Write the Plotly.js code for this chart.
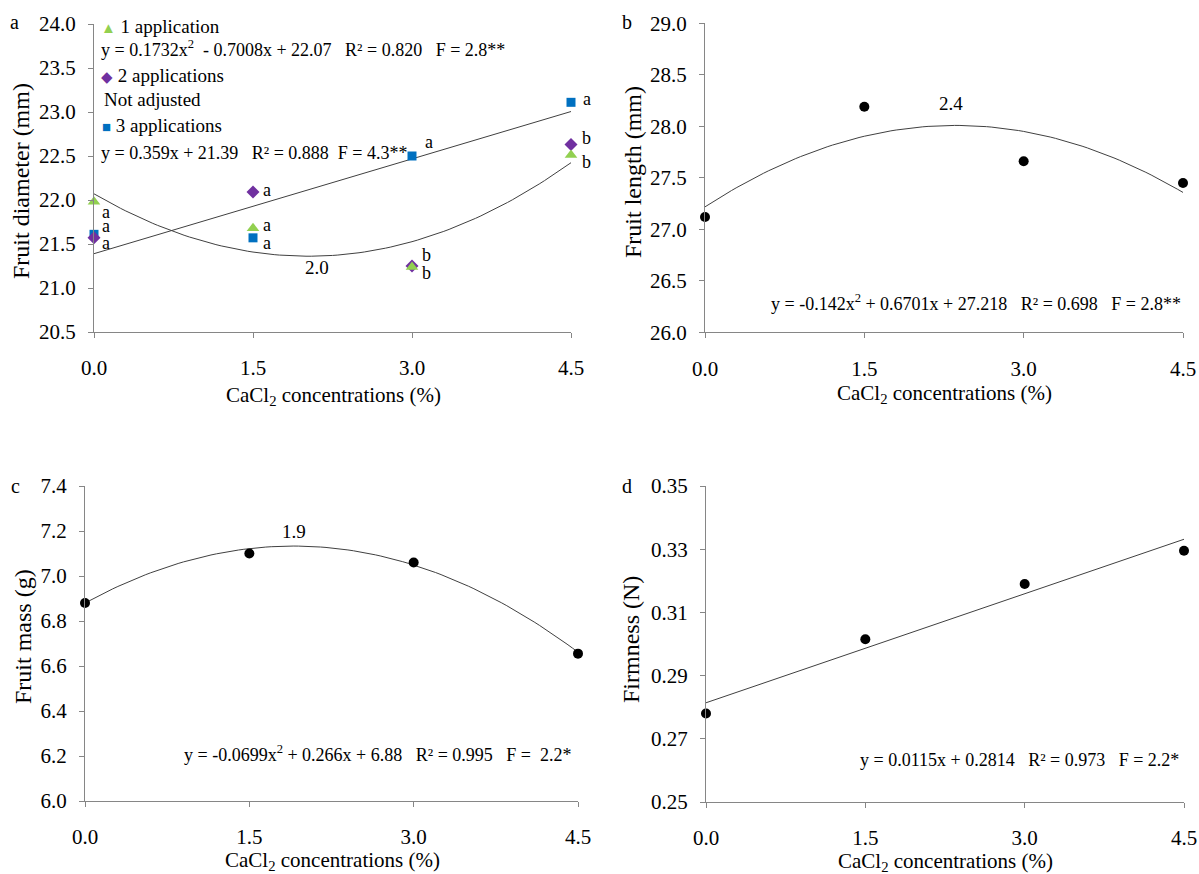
<!DOCTYPE html>
<html>
<head>
<meta charset="utf-8">
<script src="https://cdn.plot.ly/plotly-3.0.1.min.js"></script>
<style>html,body{margin:0;padding:0;background:#fff;}#chart{width:1199px;height:874px;}</style>
</head>
<body>
<div id="chart"></div>
<script>
// ---------- data ----------
const concentrations = [0, 1.5, 3.0, 4.5];
const concLabels = ['0.0', '1.5', '3.0', '4.5'];

// Panel a: fruit diameter (mm)
const diam1App = [21.98, 21.68, 21.24, 22.51];
const diam2App = [21.57, 22.09, 21.25, 22.63];
const diam3App = [21.61, 21.57, 22.50, 23.11];
const letters1App = ['a', 'a', 'b', 'b'];
const letters2App = ['a', 'a', 'b', 'b'];
const letters3App = ['a', 'a', 'a', 'a'];
const fitDiam1 = [22.07, -0.7008, 0.1732];   // c0, c1, c2
const fitDiam3 = [21.39, 0.359];

// Panel b: fruit length (mm)
const fruitLength = [27.12, 28.19, 27.66, 27.45];
const fitLength = [27.218, 0.6701, -0.142];

// Panel c: fruit mass (g)
const fruitMass = [6.88, 7.10, 7.06, 6.655];
const fitMass = [6.88, 0.266, -0.0699];

// Panel d: firmness (N)
const firmness = [0.278, 0.3015, 0.319, 0.3295];
const fitFirm = [0.2814, 0.0115];

// ---------- helpers ----------
const W = 1199, H = 874;
const fx = p => p / W;
const fy = p => 1 - p / H;
const FONT = '"Liberation Serif", serif';
const NB = s => s.replace(/ /g, '\u00a0');

function poly(c, x) { let s = 0; for (let i = c.length - 1; i >= 0; i--) s = s * x + c[i]; return s; }
function curve(c) {
  const xs = [], ys = [];
  for (let i = 0; i <= 90; i++) { const x = 4.5 * i / 90; xs.push(x); ys.push(poly(c, x)); }
  return { xs, ys };
}

const lineStyle = { color: '#404040', width: 1 };
const traces = [];
function addFit(c, xa, ya) {
  const cv = curve(c);
  traces.push({ x: cv.xs, y: cv.ys, xaxis: xa, yaxis: ya, mode: 'lines', line: lineStyle,
    hoverinfo: 'skip', showlegend: false, cliponaxis: false });
}
function addPts(y, xa, ya, symbol, color, size) {
  traces.push({ x: concentrations, y: y, xaxis: xa, yaxis: ya, mode: 'markers',
    marker: { symbol: symbol, color: color, size: size }, showlegend: false, cliponaxis: false });
}

const GREEN = '#92D050', PURPLE = '#7030A0', BLUE = '#0070C0';

addFit(fitDiam1, 'x', 'y');
addFit(fitDiam3, 'x', 'y');
addPts(diam3App, 'x', 'y', 'square', BLUE, 9);
addPts(diam2App, 'x', 'y', 'diamond', PURPLE, 10);
addPts(diam1App, 'x', 'y', 'triangle-up', GREEN, 11);

addFit(fitLength, 'x2', 'y2');
addPts(fruitLength, 'x2', 'y2', 'circle', '#000', 10);
addFit(fitMass, 'x3', 'y3');
addPts(fruitMass, 'x3', 'y3', 'circle', '#000', 10);
addFit(fitFirm, 'x4', 'y4');
addPts(firmness, 'x4', 'y4', 'circle', '#000', 10);

// ---------- axes ----------
function xAxis(d0, d1, anchor) {
  return { domain: [fx(d0), fx(d1)], anchor: anchor, range: [0, 4.5], showline: true,
    linecolor: '#868686', linewidth: 1, ticks: 'outside', ticklen: 5, tickcolor: '#868686',
    tickvals: concentrations, ticktext: concLabels, showgrid: false, zeroline: false,
    ticklabeloverflow: 'allow',
    ticklabelstandoff: 12, tickfont: { family: FONT, size: 21, color: '#000' } };
}
function yAxis(t0, t1, anchor, range, dtick, fmt) {
  return { domain: [fy(t1), fy(t0)], anchor: anchor, range: range, showline: true,
    linecolor: '#868686', linewidth: 1, ticks: 'outside', ticklen: 5, tickcolor: '#868686',
    dtick: dtick, tick0: range[0], tickformat: fmt, showgrid: false, zeroline: false,
    ticklabeloverflow: 'allow',
    ticklabelstandoff: 8, tickfont: { family: FONT, size: 21, color: '#000' } };
}

const ann = [];
function txt(text, x, y, opts) {
  ann.push(Object.assign({ text: text, x: fx(x), y: fy(y), xref: 'paper', yref: 'paper',
    showarrow: false, xanchor: 'center', yanchor: 'middle',
    font: { family: FONT, size: 18, color: '#000' } }, opts || {}));
}

// panel letters
const f20 = { family: FONT, size: 20, color: '#000' };
txt('a', 14, 22, { font: f20 });
txt('b', 627, 22, { font: f20 });
txt('c', 15, 486, { font: f20 });
txt('d', 627, 486, { font: f20 });

// axis titles
const xTitle = 'CaCl<sub>2</sub> concentrations (%)';
const tf20 = { family: FONT, size: 21, color: '#000' };
txt(xTitle, 333, 396, { font: tf20 });
txt(xTitle, 944, 394, { font: tf20 });
txt(xTitle, 332, 861, { font: tf20 });
txt(xTitle, 945, 862, { font: tf20 });
const tf24 = { family: FONT, size: 24, color: '#000' };
txt('Fruit diameter (mm)', 21, 181, { textangle: -90, font: tf24 });
txt('Fruit length (mm)', 633, 172, { textangle: -90, font: tf24 });
txt('Fruit mass (g)', 23, 637, { textangle: -90, font: tf24 });
txt('Firmness (N)', 631, 640, { textangle: -90, font: tf24 });

// panel a legend / equations
const mk = (g, c) => '<span style="color:' + c + ';font-size:15px">' + g + '</span>';
const f19 = { family: FONT, size: 19, color: '#000' };
txt(mk('\u25B2', GREEN) + ' 1 application', 99, 26, { xanchor: 'left', font: f19 });
txt(NB('y = 0.1732x<sup>2</sup>  - 0.7008x + 22.07   R² = 0.820   F = 2.8**'), 99, 49, { xanchor: 'left' });
txt(mk('\u25C6', PURPLE) + ' 2 applications', 99, 75, { xanchor: 'left', font: f19 });
txt('Not adjusted', 102, 100, { xanchor: 'left', font: f19 });
txt(mk('\u25A0', BLUE) + ' 3 applications', 100, 126, { xanchor: 'left', font: f19 });
txt(NB('y = 0.359x + 21.39   R² = 0.888  F = 4.3**'), 99, 153, { xanchor: 'left' });

// panel a significance letters (anchored on the data points)
function letter(t, xv, yv, xs, ys) {
  ann.push({ text: t, x: xv, y: yv, xref: 'x', yref: 'y', showarrow: false,
    xshift: xs, yshift: ys, font: { family: FONT, size: 18, color: '#000' } });
}
const shifts1 = [[12, -10], [14, 3], [14, -6], [15, -7]];
const shifts2 = [[12, -5], [14, 2], [14, 11], [15, 7]];
const shifts3 = [[12, 8], [14, -5], [17, 14], [16, 3]];
concentrations.forEach((c, i) => {
  letter(letters1App[i], c, diam1App[i], shifts1[i][0], shifts1[i][1]);
  letter(letters2App[i], c, diam2App[i], shifts2[i][0], shifts2[i][1]);
  letter(letters3App[i], c, diam3App[i], shifts3[i][0], shifts3[i][1]);
});

// vertex labels
ann.push({ text: '2.0', x: 2.1, y: 21.23, xref: 'x', yref: 'y', showarrow: false, font: f19 });
ann.push({ text: '2.4', x: 2.32, y: 28.22, xref: 'x2', yref: 'y2', showarrow: false, font: f19 });
ann.push({ text: '1.9', x: 1.91, y: 7.20, xref: 'x3', yref: 'y3', showarrow: false, font: f19 });

// equations b, c, d
txt(NB('y = -0.142x<sup>2</sup> + 0.6701x + 27.218   R² = 0.698   F = 2.8**'), 1183, 302, { xanchor: 'right' });
txt(NB('y = -0.0699x<sup>2</sup> + 0.266x + 6.88   R² = 0.995   F =  2.2*'), 573, 753, { xanchor: 'right' });
txt(NB('y = 0.0115x + 0.2814   R² = 0.973   F = 2.2*'), 1181, 760, { xanchor: 'right' });

const layout = {
  width: W, height: H, margin: { l: 0, r: 0, t: 0, b: 0 },
  paper_bgcolor: '#fff', plot_bgcolor: 'rgba(0,0,0,0)', showlegend: false,
  font: { family: FONT, color: '#000' },
  xaxis: xAxis(94, 571, 'y'),
  yaxis: yAxis(24, 332, 'x', [20.5, 24], 0.5, '.1f'),
  xaxis2: xAxis(705, 1183, 'y2'),
  yaxis2: yAxis(23.3, 332.3, 'x2', [26, 29], 0.5, '.1f'),
  xaxis3: xAxis(85, 578, 'y3'),
  yaxis3: yAxis(486, 801, 'x3', [6.0, 7.4], 0.2, '.1f'),
  xaxis4: xAxis(706, 1184, 'y4'),
  yaxis4: yAxis(486, 802, 'x4', [0.25, 0.35], 0.02, '.2f'),
  annotations: ann
};

Plotly.newPlot('chart', traces, layout, { displayModeBar: false, staticPlot: true });
</script>
</body>
</html>
